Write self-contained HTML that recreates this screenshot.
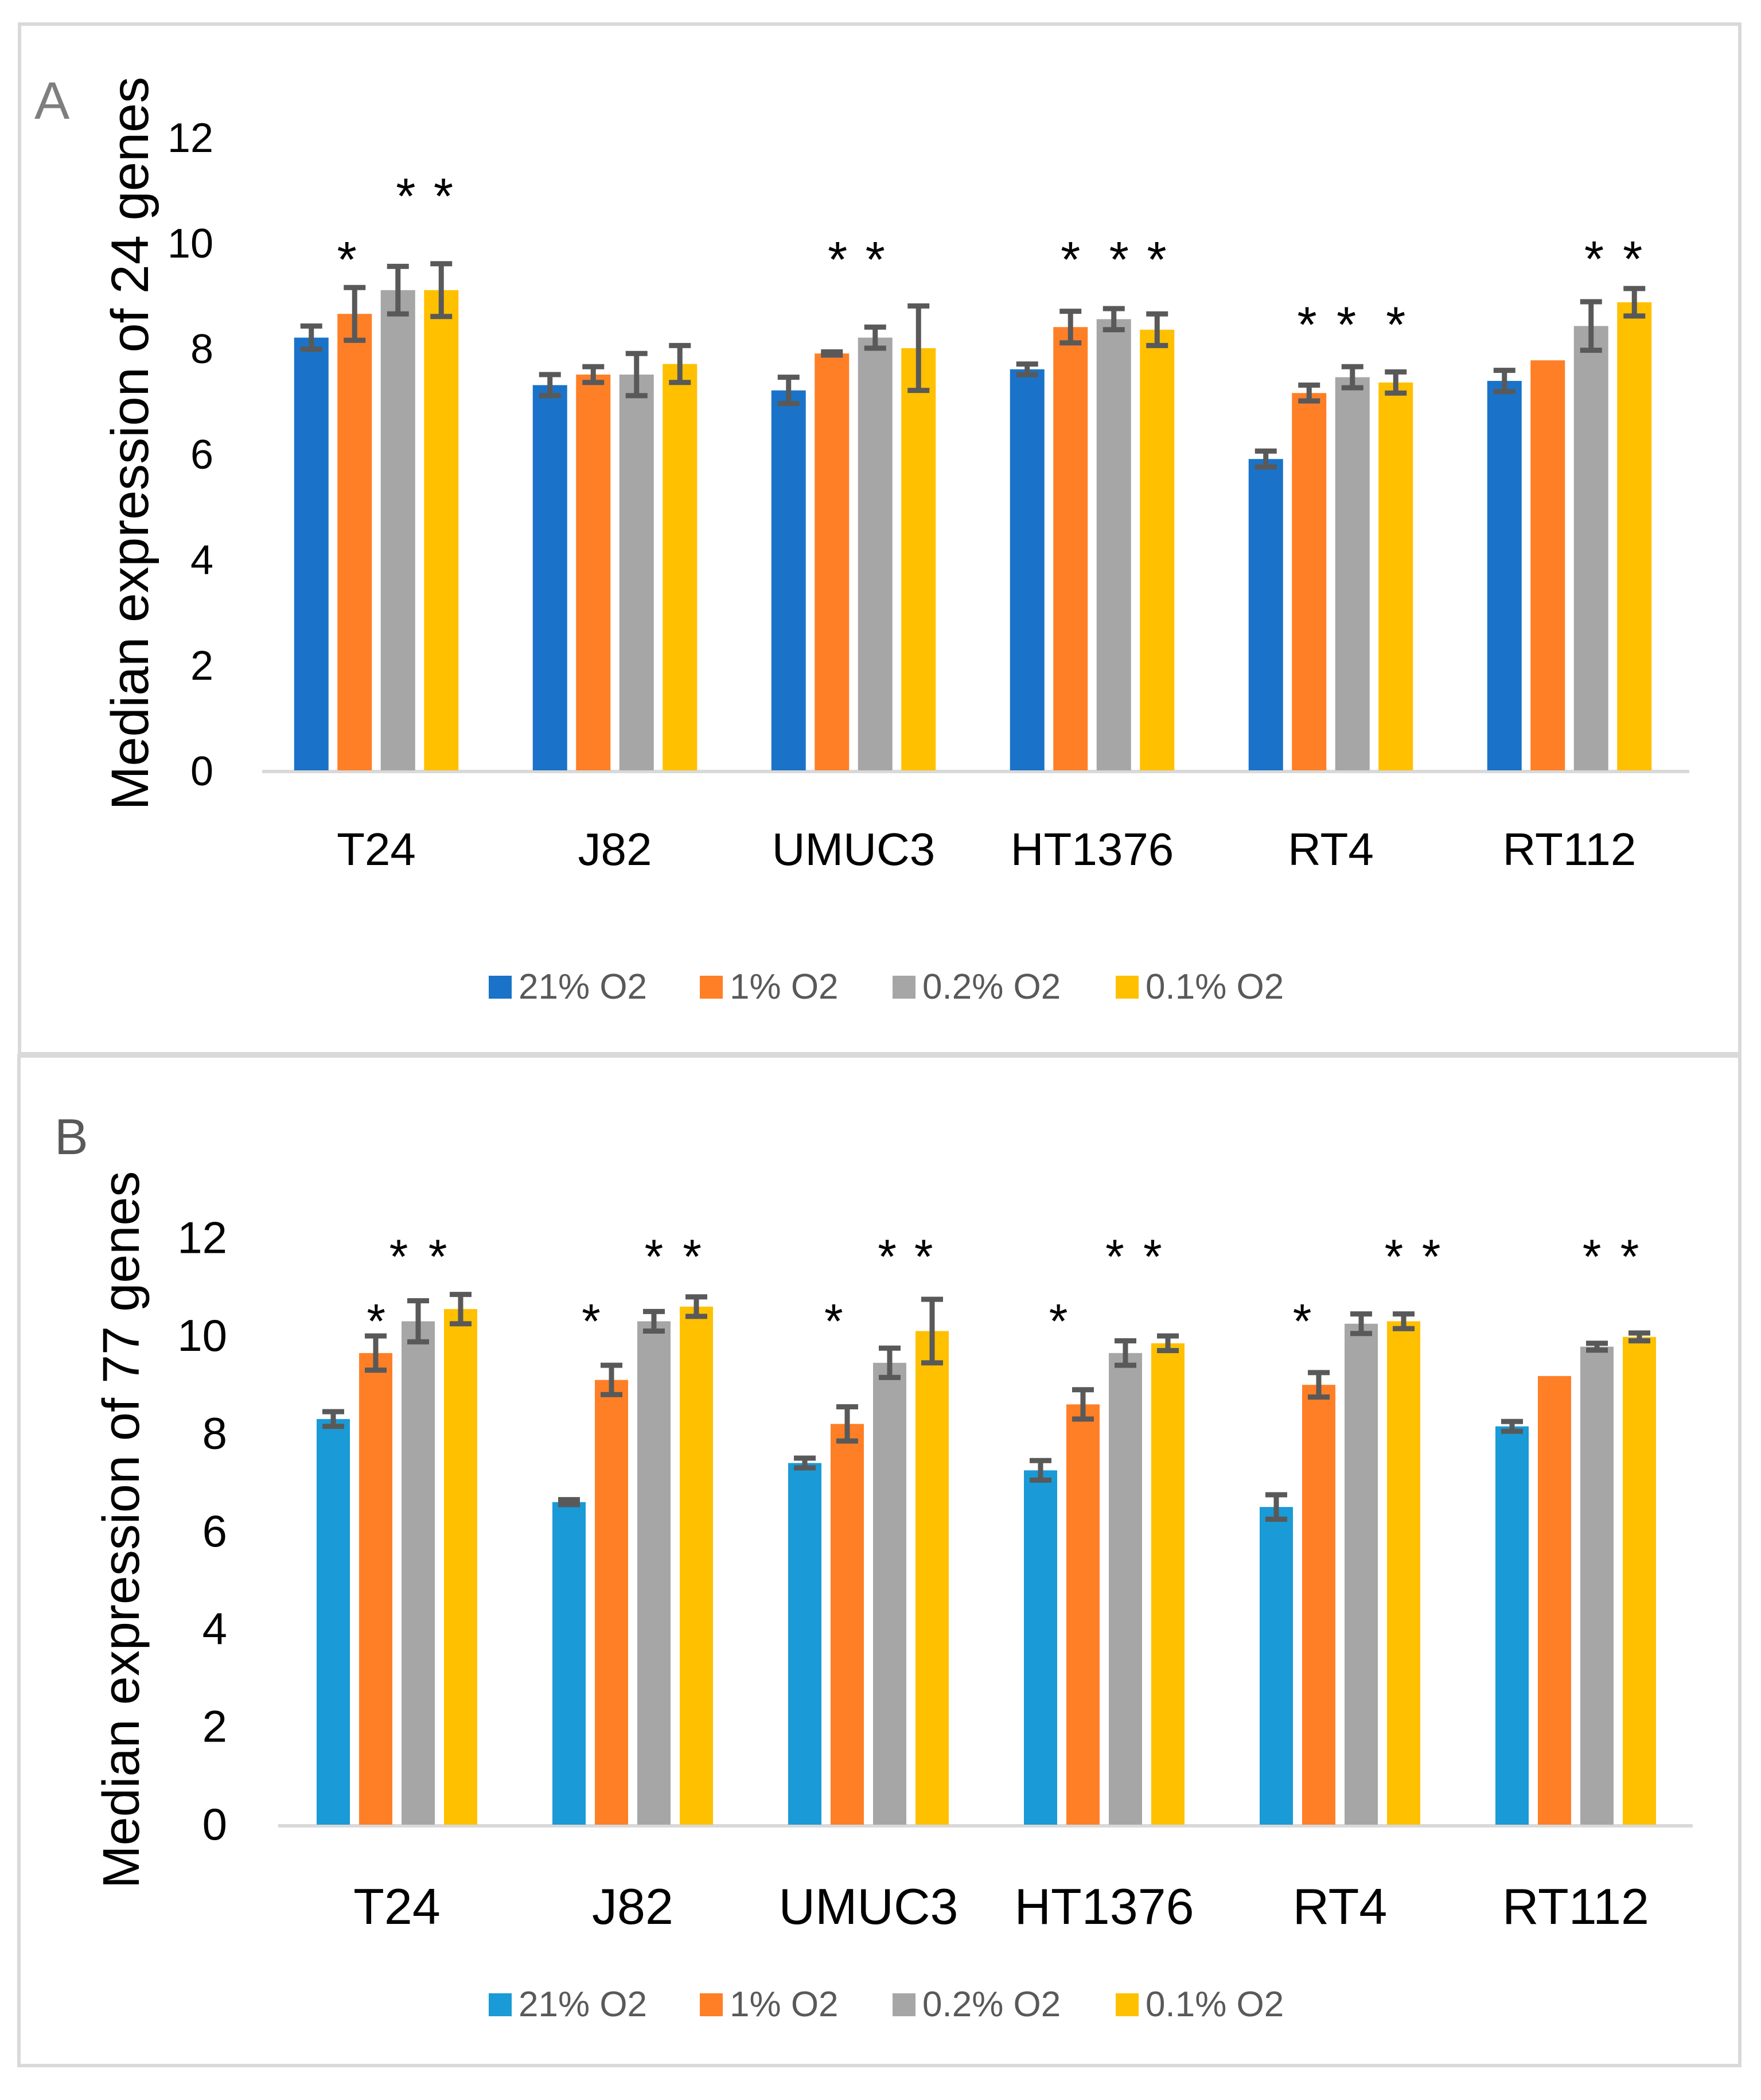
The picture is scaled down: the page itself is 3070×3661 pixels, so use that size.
<!DOCTYPE html>
<html><head><meta charset="utf-8">
<style>
html,body{margin:0;padding:0;background:#fff;}
svg{display:block;font-family:"Liberation Sans",sans-serif;}
</style></head>
<body>
<svg id="chart" width="3070" height="3661" viewBox="0 0 3070 3661" xmlns="http://www.w3.org/2000/svg">
<rect x="0" y="0" width="3070" height="3661" fill="#fff"/>
<rect x="34" y="42" width="2999" height="1795" fill="none" stroke="#d9d9d9" stroke-width="6"/>
<rect x="33" y="1841" width="3000" height="1760" fill="none" stroke="#d9d9d9" stroke-width="6"/>
<text x="60" y="207" font-size="92" fill="#7f7f7f">A</text>
<text x="95" y="2012" font-size="88" fill="#595959">B</text>
<text transform="translate(258,773) rotate(-90)" text-anchor="middle" font-size="92" fill="#000">Median expression of 24 genes</text>
<text transform="translate(242,2667) rotate(-90)" text-anchor="middle" font-size="90" fill="#000">Median  expression of 77 genes</text>
<g id="ga"></g>
<g id="gb"></g>
</svg>
<script>
const categories = ["T24","J82","UMUC3","HT1376","RT4","RT112"];
const seriesNames = ["21% O2","1% O2","0.2% O2","0.1% O2"];
const yTicks = [0,2,4,6,8,10,12];
// Panel A values and errors
const aS21 = [8.2,7.3,7.2,7.6,5.9,7.38];
const aS1 = [8.65,7.5,7.9,8.4,7.15,7.77];
const aS02 = [9.1,7.5,8.2,8.55,7.45,8.42];
const aS01 = [9.1,7.7,8.0,8.35,7.35,8.87];
const aE21 = [0.22,0.2,0.25,0.1,0.15,0.2];
const aE1 = [0.5,0.15,0.03,0.3,0.15,0];
const aE02 = [0.45,0.4,0.2,0.2,0.2,0.46];
const aE01 = [0.5,0.35,0.8,0.3,0.2,0.26];
// stars: [groupIndex, slot, value-level]
const aStars = [[0,0.82,9.83],[0,2.18,11.03],[0,3.05,11.03],[2,1.13,9.83],[2,2.0,9.83],[3,1.0,9.83],[3,2.12,9.83],[3,2.99,9.83],[4,0.95,8.6],[4,1.86,8.6],[4,3.0,8.6],[5,2.07,9.84],[5,2.96,9.84]];
// Panel B values and errors
const bS21 = [8.3,6.6,7.4,7.25,6.5,8.15];
const bS1 = [9.65,9.1,8.2,8.6,9.0,9.18];
const bS02 = [10.3,10.3,9.45,9.65,10.25,9.78];
const bS01 = [10.55,10.6,10.1,9.85,10.3,9.98];
const bE21 = [0.15,0.05,0.1,0.2,0.25,0.1];
const bE1 = [0.35,0.3,0.35,0.3,0.25,0];
const bE02 = [0.42,0.2,0.3,0.25,0.2,0.07];
const bE01 = [0.3,0.2,0.65,0.15,0.15,0.08];
const bStars = [[0,1.01,10.48],[0,1.54,11.8],[0,2.46,11.8],[1,0.52,10.48],[1,2.0,11.8],[1,2.9,11.8],[2,0.68,10.48],[2,1.94,11.8],[2,2.8,11.8],[3,0.42,10.48],[3,1.75,11.8],[3,2.64,11.8],[4,0.61,10.48],[4,2.77,11.8],[4,3.65,11.8],[5,1.88,11.8],[5,2.77,11.8]];

const NS="http://www.w3.org/2000/svg";
function mk(parent,tag,attrs,txt){const e=document.createElementNS(NS,tag);for(const k in attrs)e.setAttribute(k,attrs[k]);if(txt!==undefined)e.textContent=txt;parent.appendChild(e);return e;}

function drawPanel(gid,cfg,vals,errs,stars){
  const g=document.getElementById(gid);
  const y=v=>cfg.y0-v*cfg.unit;
  const gx=i=>cfg.g0+i*cfg.gstep;
  const bx=(i,s)=>gx(i)+(s-1.5)*cfg.pitch;
  yTicks.forEach(t=>{
    const tl=mk(g,'text',{x:cfg.tickX,y:y(t)+26,'text-anchor':'end','font-size':cfg.tickFs,fill:'#000'},String(t));
    
    
  });
  const ax=mk(g,'line',{x1:cfg.axX0,x2:cfg.axX1,y1:cfg.y0+2,y2:cfg.y0+2,stroke:'#d9d9d9','stroke-width':6});
  
  
  categories.forEach((c,i)=>{
    const cl=mk(g,'text',{x:gx(i),y:cfg.catY,'text-anchor':'middle','font-size':cfg.catFs,fill:'#000'},c);
    
    
    vals.forEach((ser,s)=>{
      const v=ser[i];
      const r=mk(g,'rect',{x:bx(i,s)-cfg.bw/2,y:y(v),width:cfg.bw,height:y(0)-y(v),fill:cfg.colors[s]});
      
      
      const e=errs[s][i];
      if(e>0){
        const eg=mk(g,'g',{stroke:'#595959','stroke-width':9});
        
        
        const cx=bx(i,s);
        mk(eg,'line',{x1:cx,x2:cx,y1:y(v+e),y2:y(v-e)});
        mk(eg,'line',{x1:cx-19,x2:cx+19,y1:y(v+e),y2:y(v+e)});
        mk(eg,'line',{x1:cx-19,x2:cx+19,y1:y(v-e),y2:y(v-e)});
      }
    });
  });
  stars.forEach(st=>{
    const t=mk(g,'text',{x:bx(st[0],st[1]),y:y(st[2])+44,'text-anchor':'middle','font-size':cfg.starFs,fill:'#000'},'*');
    
    
  });
  seriesNames.forEach((n,s)=>{
    const lx=cfg.legX[s];
    const sq=mk(g,'rect',{x:lx,y:cfg.legY-22,width:40,height:40,fill:cfg.colors[s]});
    
    
    const lt=mk(g,'text',{x:lx+52,y:cfg.legY+18,'font-size':62,fill:'#595959'},n);
    
    
  });
}
drawPanel('ga',{y0:1343,unit:92,g0:656,gstep:416,pitch:75.5,bw:60,tickX:372,tickFs:72,axX0:457,axX1:2945,catY:1508,catFs:80,starFs:88,legY:1723,legX:[852,1220,1556,1945],colors:['#1a73c8','#ff7f27','#a6a6a6','#ffc000']},
  [aS21,aS1,aS02,aS01],[aE21,aE1,aE02,aE01],aStars);
drawPanel('gb',{y0:3181,unit:85.2,g0:692,gstep:411,pitch:74,bw:58,tickX:396,tickFs:78,axX0:485,axX1:2951,catY:3354,catFs:88,starFs:84,legY:3497,legX:[852,1220,1556,1945],colors:['#1a9ad6','#ff7f27','#a6a6a6','#ffc000']},
  [bS21,bS1,bS02,bS01],[bE21,bE1,bE02,bE01],bStars);
</script>
</body></html>
